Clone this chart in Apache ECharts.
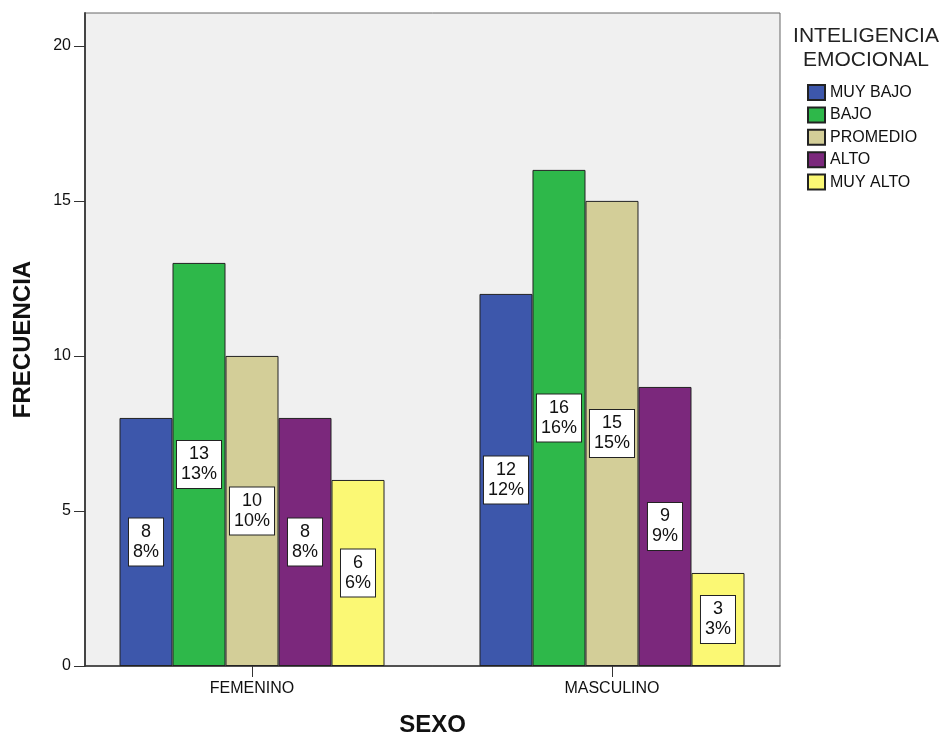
<!DOCTYPE html>
<html>
<head>
<meta charset="utf-8">
<script src="https://cdn.jsdelivr.net/npm/echarts@6/dist/echarts.min.js"></script>
<style>
html,body{margin:0;padding:0;background:#fff;}
#chart{width:943px;height:743px;}
</style>
</head>
<body>
<div id="chart"></div>
<script>
// ---- data ----
var categories = ['FEMENINO', 'MASCULINO'];
var seriesNames = ['MUY BAJO', 'BAJO', 'PROMEDIO', 'ALTO', 'MUY ALTO'];
var muyBajo = [8, 12];
var bajo = [13, 16];
var promedio = [10, 15];
var alto = [8, 9];
var muyAlto = [6, 3];
var percMuyBajo = [8, 12];
var percBajo = [13, 16];
var percPromedio = [10, 15];
var percAlto = [8, 9];
var percMuyAlto = [6, 3];
var yTicks = [0, 5, 10, 15, 20];
var legendTitle = 'INTELIGENCIA\nEMOCIONAL';
var xTitle = 'SEXO';
var yTitle = 'FRECUENCIA';

var values = [muyBajo, bajo, promedio, alto, muyAlto];
var percents = [percMuyBajo, percBajo, percPromedio, percAlto, percMuyAlto];
var colors = ['#3d57ab', '#2eb84a', '#d3ce98', '#7b287c', '#fbf874'];
var catIdx = categories.map(function (c, i) { return i; });

var chart = echarts.init(document.getElementById('chart'), null, {renderer: 'canvas'});
var font = 'Liberation Sans, Arial, sans-serif';

var series = seriesNames.map(function (name, s) {
  return {
    name: name,
    type: 'bar',
    barWidth: 53,
    barGap: '0%',
    data: values[s].map(function (v, i) { return [catIdx[i], v]; }),
    itemStyle: {color: colors[s], borderColor: '#222', borderWidth: 1},
    label: {
      show: true,
      position: 'inside',
      formatter: function (p) { return p.value[1] + '\n' + percents[s][p.dataIndex] + '%'; },
      fontFamily: font,
      fontSize: 18,
      lineHeight: 20,
      color: '#111',
      backgroundColor: '#fff',
      borderColor: '#222',
      borderWidth: 1,
      padding: [4, 4, 3, 4]
    },
    emphasis: {disabled: true}
  };
});

chart.setOption({
  animation: false,
  backgroundColor: '#fff',
  title: {
    text: legendTitle,
    left: 866,
    top: 24,
    padding: 0,
    textAlign: 'center',
    textStyle: {fontFamily: font, fontWeight: 'normal', fontSize: 21, lineHeight: 24, color: '#222'}
  },
  legend: {
    orient: 'vertical',
    left: 807,
    top: 84,
    padding: 0,
    itemWidth: 17,
    itemHeight: 15,
    itemGap: 5.4,
    icon: 'rect',
    data: seriesNames,
    textStyle: {fontFamily: font, fontSize: 16, color: '#111'}
  },
  grid: {
    left: 85, top: 13, right: 163, bottom: 77,
    show: true,
    backgroundColor: '#f0f0f0',
    borderColor: '#666',
    borderWidth: 1
  },
  xAxis: {
    type: 'value',
    min: -0.4639,
    max: 1.4667,
    name: xTitle,
    nameLocation: 'middle',
    nameGap: 47,
    nameTextStyle: {fontFamily: font, fontWeight: 'bold', fontSize: 24, color: '#111'},
    splitLine: {show: false},
    axisLine: {show: true, onZero: false, lineStyle: {color: '#333', width: 1.5}},
    axisTick: {show: true, customValues: catIdx, length: 11, lineStyle: {color: '#333'}},
    axisLabel: {
      customValues: catIdx,
      margin: 15,
      fontFamily: font,
      fontSize: 16,
      color: '#111',
      formatter: function (v) { return categories[Math.round(v)]; }
    }
  },
  yAxis: {
    type: 'value',
    min: 0,
    max: 21.06,
    interval: 5,
    name: yTitle,
    nameLocation: 'middle',
    nameGap: 50,
    nameRotate: 90,
    nameTextStyle: {fontFamily: font, fontWeight: 'bold', fontSize: 24, color: '#111'},
    splitLine: {show: false},
    axisLine: {show: true, onZero: false, lineStyle: {color: '#444', width: 2}},
    axisTick: {show: true, customValues: yTicks, length: 11, lineStyle: {color: '#333'}},
    axisLabel: {customValues: yTicks, margin: 14, fontFamily: font, fontSize: 16, color: '#111'}
  },
  series: series
});
</script>
</body>
</html>
